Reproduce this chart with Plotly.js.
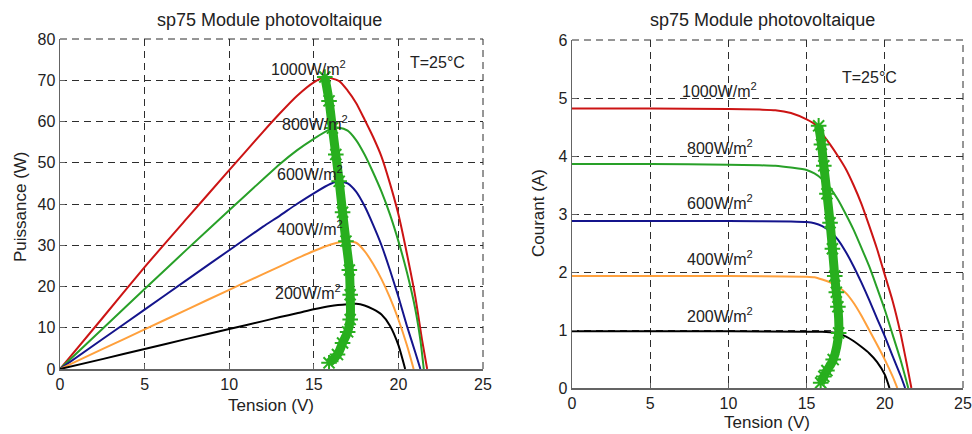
<!DOCTYPE html>
<html>
<head>
<meta charset="utf-8">
<script src="https://cdn.plot.ly/plotly-3.0.1.min.js"></script>
<style>html,body{margin:0;padding:0;background:#fff;}#chart{width:972px;height:434px;}</style>
</head>
<body>
<div id="chart"></div>
<script>
// ---- Data ----
const seriesNames = ["1000W/m<sup>2</sup>", "800W/m<sup>2</sup>", "600W/m<sup>2</sup>", "400W/m<sup>2</sup>", "200W/m<sup>2</sup>"];

// P-V curves (left)
const pv1000_V = [0, 2.5, 5, 7.5, 10, 12, 13, 14, 15, 15.7, 16.5, 17, 17.5, 18, 18.5, 19, 19.5, 20, 20.5, 21, 21.4, 21.7];
const pv1000_P = [0, 12.3, 24.7, 36.5, 48.2, 57.5, 62, 66.2, 69.5, 70.7, 69.8, 67.5, 64.5, 60.5, 56.3, 51.5, 45, 37.5, 28, 17.5, 7, 0];
const pv800_V = [0, 2.5, 5, 7.5, 10, 12, 13, 14, 15, 16, 16.5, 17, 17.5, 18, 18.5, 19, 19.5, 20, 20.5, 21, 21.3, 21.5];
const pv800_P = [0, 9.7, 19.4, 29, 38.5, 46, 49.7, 53, 55.8, 58.2, 58.5, 57.8, 55.5, 52, 47.7, 43, 37.5, 31, 23.5, 14.5, 7, 0];
const pv600_V = [0, 2.5, 5, 7.5, 10, 12, 13, 14, 15, 16, 16.5, 17, 17.5, 18, 18.5, 19, 19.5, 20, 20.5, 21, 21.3];
const pv600_P = [0, 7.2, 14.4, 21.6, 28.8, 34.5, 37.2, 40, 42.6, 44.9, 45.5, 45, 43, 39.5, 35, 30, 24, 17.5, 10.5, 4, 0];
const pv400_V = [0, 2.5, 5, 7.5, 10, 12, 13, 14, 15, 16, 16.8, 17.5, 18, 18.5, 19, 19.5, 20, 20.5, 20.9];
const pv400_P = [0, 4.8, 9.6, 14.4, 19.2, 23, 24.9, 26.8, 28.6, 30.2, 31, 30.6, 28.6, 25.5, 21.8, 17.3, 12, 5.8, 0];
const pv200_V = [0, 2.5, 5, 7.5, 10, 12, 13, 14, 15, 16, 17, 17.5, 18, 18.5, 19, 19.5, 20, 20.4];
const pv200_P = [0, 2.4, 4.85, 7.3, 9.7, 11.6, 12.6, 13.5, 14.5, 15.3, 15.7, 15.8, 15.4, 14.5, 13.2, 10.5, 5.8, 0];

// I-V curves (right)
const iv1000_V = [0, 5, 10, 12, 13, 14, 15, 15.5, 16, 16.5, 17, 17.5, 18, 18.5, 19, 19.5, 20, 20.5, 21, 21.4, 21.7];
const iv1000_I = [4.82, 4.82, 4.81, 4.8, 4.79, 4.74, 4.63, 4.55, 4.38, 4.2, 4.0, 3.78, 3.5, 3.18, 2.8, 2.4, 1.95, 1.5, 0.95, 0.42, 0];
const iv800_V = [0, 5, 10, 12, 13, 14, 15, 15.5, 16, 16.5, 17, 17.5, 18, 18.5, 19, 19.5, 20, 20.5, 21, 21.5];
const iv800_I = [3.86, 3.86, 3.85, 3.84, 3.83, 3.8, 3.76, 3.7, 3.6, 3.45, 3.25, 3.0, 2.73, 2.42, 2.1, 1.73, 1.35, 0.92, 0.49, 0];
const iv600_V = [0, 5, 10, 14, 15, 15.5, 16, 16.5, 17, 17.5, 18, 18.5, 19, 19.5, 20, 20.5, 21, 21.3];
const iv600_I = [2.88, 2.88, 2.88, 2.87, 2.86, 2.84, 2.79, 2.7, 2.56, 2.35, 2.1, 1.82, 1.52, 1.2, 0.89, 0.55, 0.22, 0];
const iv400_V = [0, 10, 15, 15.5, 16, 16.5, 17, 17.5, 18, 18.5, 19, 19.5, 20, 20.5, 20.8];
const iv400_I = [1.93, 1.93, 1.92, 1.91, 1.87, 1.82, 1.75, 1.64, 1.47, 1.25, 1.0, 0.75, 0.49, 0.2, 0];
const iv200_V = [0, 10, 15, 16, 16.5, 17, 17.5, 18, 18.5, 19, 19.5, 20, 20.3];
const iv200_I = [0.98, 0.98, 0.97, 0.97, 0.96, 0.94, 0.89, 0.81, 0.71, 0.6, 0.45, 0.23, 0];

// Maximum power point tracks (green asterisk band)
const mppPV_V = [15.9, 16.4, 16.7, 17.0, 17.15, 17.15, 17.1, 16.9, 16.7, 16.5, 16.3, 16.1, 15.9, 15.65];
const mppPV_P = [1.5, 3.5, 6.3, 9, 12, 18, 24, 31, 38, 45.5, 52, 58.4, 65, 70.8];
const mppIV_V = [15.9, 16.1, 16.3, 16.7, 17.05, 17.0, 16.9, 16.8, 16.65, 16.5, 16.3, 16.1, 15.95, 15.77];
const mppIV_I = [0.09, 0.2, 0.3, 0.49, 0.95, 1.4, 1.65, 1.93, 2.4, 2.85, 3.35, 3.83, 4.2, 4.52];

// Label positions (data coords) for irradiance labels
const pvLabelV = [14.66, 15.1, 14.8, 14.8, 14.66];
const pvLabelP = [73, 59.6, 47.5, 34.2, 18.7];
const ivLabelV = [9.46, 9.46, 9.46, 9.46, 9.46];
const ivLabelI = [5.14, 4.16, 3.21, 2.24, 1.26];

const xTicks = [0, 5, 10, 15, 20, 25];
const pTicks = [0, 10, 20, 30, 40, 50, 60, 70, 80];
const iTicks = [0, 1, 2, 3, 4, 5, 6];

// ---- Styling ----
const colors = ["rgb(204,20,20)", "rgb(40,160,40)", "rgb(20,20,140)", "rgb(255,160,60)", "rgb(0,0,0)"];
const mppColor = "rgb(40,175,30)";
const FONT = "Liberation Sans, Arial, Helvetica, sans-serif";
const GRIDC = "rgb(45,45,45)";

const pvV = [pv1000_V, pv800_V, pv600_V, pv400_V, pv200_V];
const pvP = [pv1000_P, pv800_P, pv600_P, pv400_P, pv200_P];
const ivV = [iv1000_V, iv800_V, iv600_V, iv400_V, iv200_V];
const ivI = [iv1000_I, iv800_I, iv600_I, iv400_I, iv200_I];

const traces = [];
for (let k = 0; k < 5; k++) {
  traces.push({x: pvV[k], y: pvP[k], xaxis: 'x', yaxis: 'y', mode: 'lines', type: 'scatter',
    line: {color: colors[k], width: 2, shape: 'spline', smoothing: 0.6}, hoverinfo: 'skip'});
}
for (let k = 0; k < 5; k++) {
  traces.push({x: ivV[k], y: ivI[k], xaxis: 'x2', yaxis: 'y2', mode: 'lines', type: 'scatter',
    line: {color: colors[k], width: 2, shape: 'spline', smoothing: 0.6}, hoverinfo: 'skip'});
}
const mppStyle = {
  mode: 'lines+markers', type: 'scatter',
  line: {color: mppColor, width: 9, shape: 'spline'},
  marker: {symbol: 'asterisk-open', size: 13, color: mppColor, line: {color: mppColor, width: 2}}, hoverinfo: 'skip'
};
traces.push(Object.assign({x: mppPV_V, y: mppPV_P, xaxis: 'x', yaxis: 'y'}, mppStyle));
traces.push(Object.assign({x: mppIV_V, y: mppIV_I, xaxis: 'x2', yaxis: 'y2'}, mppStyle));

function axisBase(ticks, range, domain, anchor) {
  return {
    range: range, domain: domain, anchor: anchor,
    tickmode: 'array', tickvals: ticks, ticktext: ticks.map(String),
    showgrid: true, gridcolor: GRIDC, gridwidth: 1, griddash: '7px,5px',
    zeroline: false, showline: true, linecolor: 'rgb(100,100,100)', linewidth: 1.5, mirror: false,
    ticks: 'inside', ticklen: 5, tickcolor: 'rgb(100,100,100)',
    tickfont: {family: FONT, size: 16, color: '#222'}, fixedrange: true
  };
}

const W = 972, H = 434;
const px = v => v / W, py = v => 1 - v / H;

const annotations = [];
function ann(text, x, y, xref, yref, extra) {
  annotations.push(Object.assign({text: text, x: x, y: y, xref: xref, yref: yref, showarrow: false,
    font: {family: FONT, size: 16, color: '#222'}, xanchor: 'center', yanchor: 'middle'}, extra || {}));
}
// titles
ann("sp75 Module photovoltaique", px(269), py(20), 'paper', 'paper', {font: {family: FONT, size: 18, color: '#222'}});
ann("sp75 Module photovoltaique", px(762), py(20), 'paper', 'paper', {font: {family: FONT, size: 18, color: '#222'}});
ann("Tension (V)", px(271), py(405), 'paper', 'paper', {font: {family: FONT, size: 17, color: '#222'}});
ann("Tension (V)", px(767), py(422), 'paper', 'paper', {font: {family: FONT, size: 17, color: '#222'}});
ann("Puissance (W)", px(20), py(207), 'paper', 'paper', {textangle: -90, font: {family: FONT, size: 17, color: '#222'}});
ann("Courant (A)", px(538), py(213), 'paper', 'paper', {textangle: -90, font: {family: FONT, size: 17, color: '#222'}});
ann("T=25°C", 22.3, 74.4, 'x', 'y');
ann("T=25°C", 19.05, 5.36, 'x2', 'y2');
for (let k = 0; k < 5; k++) {
  ann(seriesNames[k], pvLabelV[k], pvLabelP[k], 'x', 'y');
  ann(seriesNames[k], ivLabelV[k], ivLabelI[k], 'x2', 'y2');
}

// dashed top/right frame edges (MATLAB grid at range limits)
const shapes = [];
[['x', 'y'], ['x2', 'y2']].forEach(([xa, ya]) => {
  shapes.push({type: 'line', xref: xa + ' domain', yref: ya + ' domain', x0: 0, x1: 1, y0: 1, y1: 1,
    line: {color: GRIDC, width: 1, dash: '7px,5px'}, layer: 'below'});
  shapes.push({type: 'line', xref: xa + ' domain', yref: ya + ' domain', x0: 1, x1: 1, y0: 0, y1: 1,
    line: {color: GRIDC, width: 1, dash: '7px,5px'}, layer: 'below'});
});

const layout = {
  width: W, height: H, margin: {l: 0, r: 0, t: 0, b: 0},
  paper_bgcolor: '#fff', plot_bgcolor: '#fff', showlegend: false,
  font: {family: FONT, size: 16, color: '#222'},
  xaxis: axisBase(xTicks, [0, 25], [px(60), px(483)], 'y'),
  yaxis: axisBase(pTicks, [0, 80], [py(369), py(39)], 'x'),
  xaxis2: axisBase(xTicks, [0, 25], [px(572), px(963)], 'y2'),
  yaxis2: axisBase(iTicks, [0, 6], [py(388), py(40)], 'x2'),
  annotations: annotations,
  shapes: shapes
};

Plotly.newPlot('chart', traces, layout, {staticPlot: true, displayModeBar: false});
</script>
</body>
</html>
